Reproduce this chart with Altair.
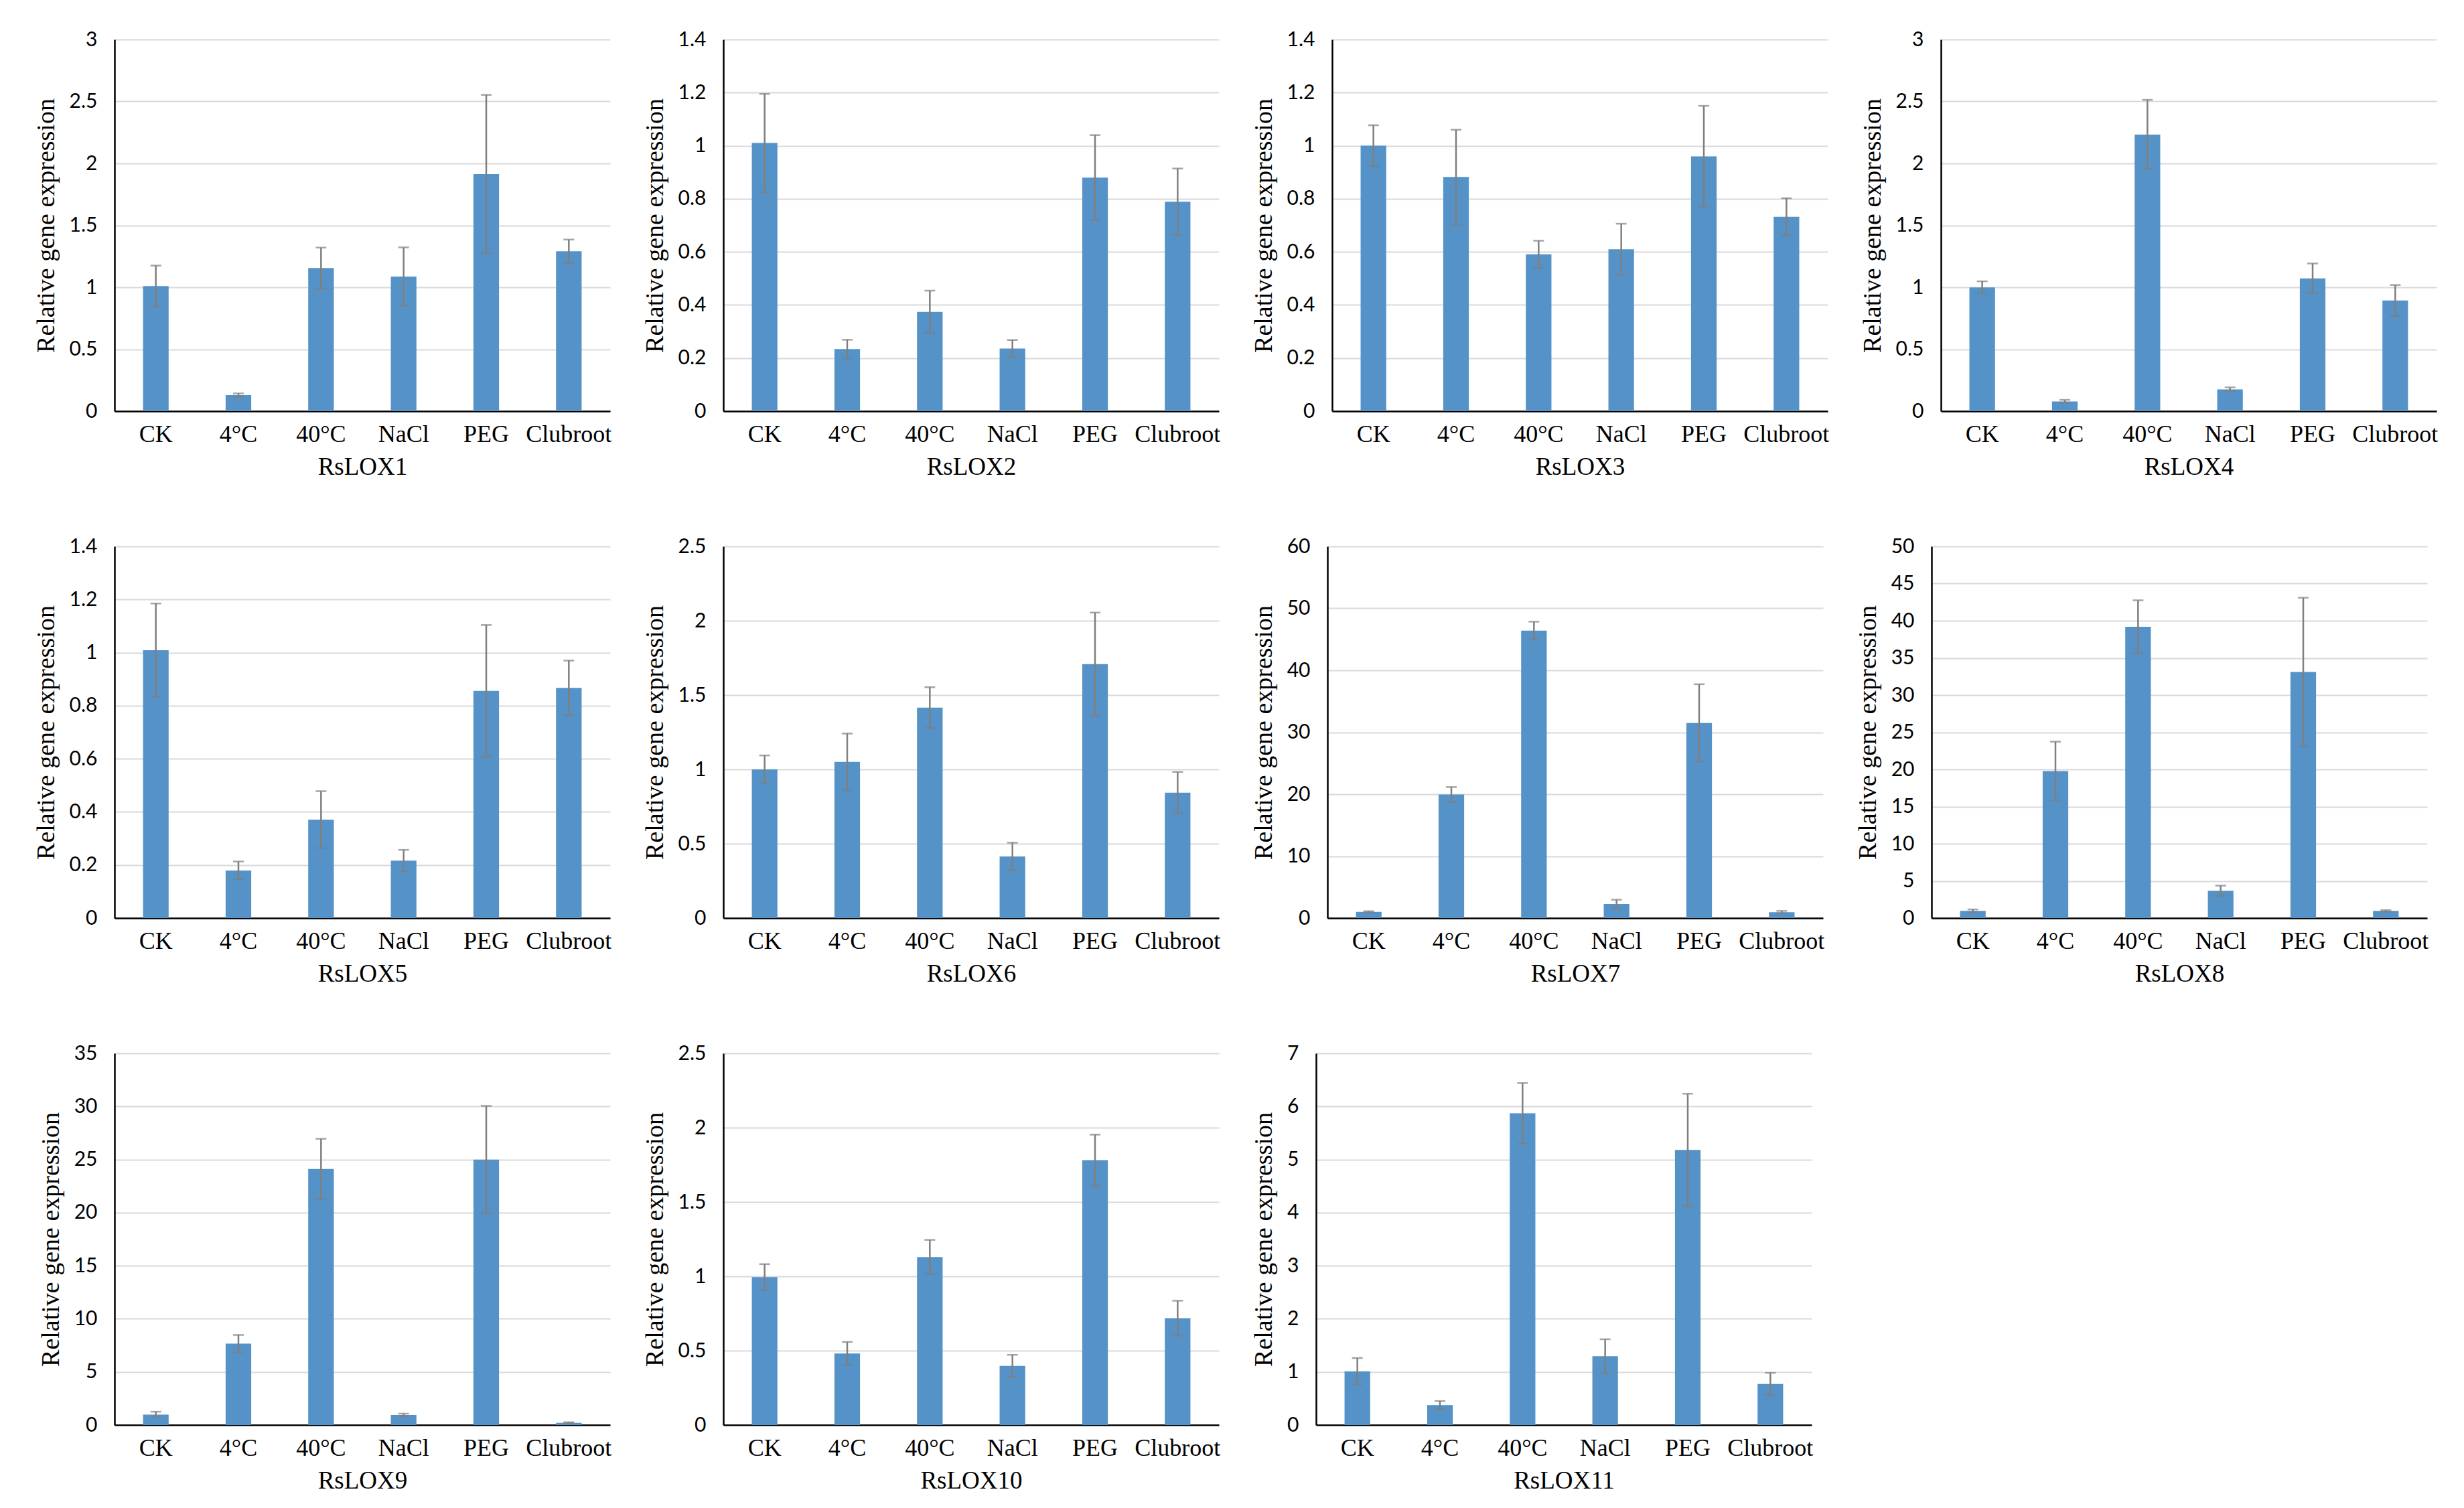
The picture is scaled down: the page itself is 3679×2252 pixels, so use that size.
import altair as alt
import pandas as pd

conditions = ["CK", "4°C", "40°C", "NaCl", "PEG", "Clubroot"]
genes = ["RsLOX1", "RsLOX2", "RsLOX3", "RsLOX4", "RsLOX5", "RsLOX6",
         "RsLOX7", "RsLOX8", "RsLOX9", "RsLOX10", "RsLOX11"]

means = {
    "RsLOX1": [1.01, 0.13, 1.155, 1.087, 1.913, 1.29],
    "RsLOX2": [1.01, 0.234, 0.374, 0.236, 0.88, 0.789],
    "RsLOX3": [1.0, 0.882, 0.591, 0.61, 0.96, 0.732],
    "RsLOX4": [0.998, 0.079, 2.233, 0.176, 1.072, 0.893],
    "RsLOX5": [1.009, 0.179, 0.371, 0.216, 0.856, 0.867],
    "RsLOX6": [1.0, 1.051, 1.416, 0.414, 1.708, 0.843],
    "RsLOX7": [1.0, 19.95, 46.4, 2.26, 31.5, 0.95],
    "RsLOX8": [0.96, 19.78, 39.2, 3.68, 33.1, 0.96],
    "RsLOX9": [0.98, 7.66, 24.1, 0.95, 24.99, 0.21],
    "RsLOX10": [0.994, 0.481, 1.13, 0.397, 1.781, 0.719],
    "RsLOX11": [1.01, 0.374, 5.87, 1.295, 5.18, 0.772],
}
errors = {
    "RsLOX1": [0.165, 0.013, 0.165, 0.235, 0.64, 0.095],
    "RsLOX2": [0.185, 0.035, 0.08, 0.032, 0.16, 0.125],
    "RsLOX3": [0.077, 0.178, 0.051, 0.096, 0.19, 0.07],
    "RsLOX4": [0.05, 0.012, 0.28, 0.016, 0.12, 0.125],
    "RsLOX5": [0.176, 0.034, 0.107, 0.041, 0.248, 0.103],
    "RsLOX6": [0.094, 0.19, 0.137, 0.093, 0.347, 0.14],
    "RsLOX7": [0.1, 1.2, 1.45, 0.7, 6.25, 0.2],
    "RsLOX8": [0.2, 3.95, 3.55, 0.68, 10.0, 0.1],
    "RsLOX9": [0.27, 0.82, 2.85, 0.12, 5.06, 0.05],
    "RsLOX10": [0.088, 0.077, 0.115, 0.075, 0.172, 0.117],
    "RsLOX11": [0.25, 0.075, 0.57, 0.32, 1.06, 0.21],
}
y_max = {"RsLOX1": 3, "RsLOX2": 1.4, "RsLOX3": 1.4, "RsLOX4": 3, "RsLOX5": 1.4,
         "RsLOX6": 2.5, "RsLOX7": 60, "RsLOX8": 50, "RsLOX9": 35, "RsLOX10": 2.5,
         "RsLOX11": 7}
y_step = {"RsLOX1": 0.5, "RsLOX2": 0.2, "RsLOX3": 0.2, "RsLOX4": 0.5, "RsLOX5": 0.2,
          "RsLOX6": 0.5, "RsLOX7": 10, "RsLOX8": 5, "RsLOX9": 5, "RsLOX10": 0.5,
          "RsLOX11": 1}

BLUE = "#5592C8"
GRAY = "#7F7F7F"
SERIF = "Liberation Serif"
SANS = "Lato"

rows = []
for g in genes:
    for c, m, e in zip(conditions, means[g], errors[g]):
        rows.append({"gene": g, "cond": c, "mean": m, "lo": m - e, "hi": m + e})
df = pd.DataFrame(rows)

W, H = 740, 555


def panel(g):
    d = df[df["gene"] == g]
    n = int(round(y_max[g] / y_step[g]))
    ticks = [round(i * y_step[g], 3) for i in range(n + 1)]
    yscale = alt.Scale(domain=[0, y_max[g]], nice=False, zero=True)
    yaxis = alt.Axis(
        title="Relative gene expression", values=ticks, format=".2~f",
        labelFont=SANS, labelFontSize=30, labelColor="#000000", labelPadding=26,
        titleFont=SERIF, titleFontSize=38, titleFontWeight="normal",
        titleColor="#000000", titlePadding=15,
        ticks=False, domainColor="#000000", domainWidth=2.5,
        grid=True, gridColor="#D9D9D9", gridWidth=2,
    )
    xaxis = alt.Axis(
        title=g, labelAngle=0, labelFont=SERIF, labelFontSize=36,
        labelColor="#000000", labelPadding=17, ticks=False,
        domainColor="#000000", domainWidth=2.5, grid=False,
        titleFont=SERIF, titleFontSize=37, titleFontWeight="normal",
        titleColor="#000000", titlePadding=13,
    )
    x = alt.X("cond:N", sort=conditions,
              scale=alt.Scale(paddingInner=0.69, paddingOuter=0.345), axis=xaxis)
    base = alt.Chart(d).encode(x=x)
    bars = base.mark_bar(color=BLUE).encode(
        y=alt.Y("mean:Q", scale=yscale, axis=yaxis))
    rule = base.mark_rule(color=GRAY, strokeWidth=2.5).encode(
        y=alt.Y("lo:Q", scale=yscale, axis=yaxis), y2="hi:Q")
    cap_top = base.mark_tick(color=GRAY, thickness=2.5, size=16).encode(
        y=alt.Y("hi:Q", scale=yscale, axis=yaxis))
    cap_bot = base.mark_tick(color=GRAY, thickness=2.5, size=16).encode(
        y=alt.Y("lo:Q", scale=yscale, axis=yaxis))
    return alt.layer(bars, rule, cap_top, cap_bot).properties(width=W, height=H)


grid_rows = [genes[0:4], genes[4:8], genes[8:11]]
chart = alt.vconcat(
    *[alt.hconcat(*[panel(g) for g in r], spacing=46) for r in grid_rows],
    spacing=86,
).properties(
    padding={"left": 42, "top": 36, "right": 5, "bottom": 5},
    background="#FFFFFF",
).configure_view(strokeWidth=0)

chart.save("out.html", embed_options={"renderer": "svg", "actions": False})
